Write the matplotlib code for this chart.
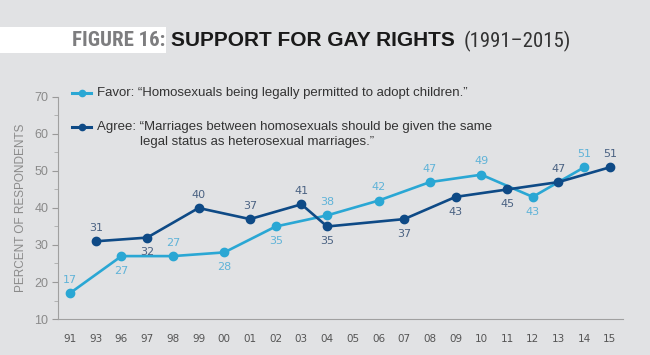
import numpy as np
import matplotlib
matplotlib.use("Agg")
from matplotlib import pyplot as plt
from matplotlib import font_manager
from matplotlib.patches import Rectangle

years = ['91', '93', '96', '97', '98', '99', '00', '01', '02', '03', '04',
         '05', '06', '07', '08', '09', '10', '11', '12', '13', '14', '15']

# Favor: adopt children
adopt_years = ['91', '96', '98', '00', '02', '04', '06', '08', '10', '12', '14']
adopt_vals = [17, 27, 27, 28, 35, 38, 42, 47, 49, 43, 51]
adopt_pos = ['a', 'b', 'a', 'b', 'b', 'a', 'a', 'a', 'a', 'b', 'a']

# Agree: marriage same legal status
marry_years = ['93', '97', '99', '01', '03', '04', '07', '09', '11', '13', '15']
marry_vals = [31, 32, 40, 37, 41, 35, 37, 43, 45, 47, 51]
marry_pos = ['a', 'b', 'a', 'a', 'a', 'b', 'b', 'b', 'b', 'a', 'a']

bg = '#e1e2e4'
light = '#2aa7d4'
dark = '#0e4a86'
light_lbl = '#5fb3d8'
dark_lbl = '#4a6282'

names = {f.name for f in font_manager.fontManager.ttflist}
cond = [n for n in ['Liberation Sans Narrow', 'DejaVu Sans Condensed', 'Roboto Condensed']
        if n in names]
cond_fam = cond + ['Liberation Sans']

fig = plt.figure(figsize=(6.5, 3.55), dpi=100, facecolor=bg)
ax = fig.add_axes([0.0892, 0.1014, 0.8688, 0.6254], facecolor=bg)

xi = {y: i for i, y in enumerate(years)}
ax_x = [xi[y] for y in adopt_years]
mx_x = [xi[y] for y in marry_years]

ax.plot(ax_x, adopt_vals, color=light, lw=1.9, marker='o', ms=6, zorder=3, clip_on=False)
ax.plot(mx_x, marry_vals, color=dark, lw=1.9, marker='o', ms=6, zorder=4, clip_on=False)

for x, v, p in zip(ax_x, adopt_vals, adopt_pos):
    off = 6 if p == 'a' else -7
    ax.annotate(str(v), (x, v), xytext=(0, off), textcoords='offset points',
                ha='center', va='bottom' if p == 'a' else 'top',
                fontsize=8, color=light_lbl)
for x, v, p in zip(mx_x, marry_vals, marry_pos):
    off = 6 if p == 'a' else -7
    ax.annotate(str(v), (x, v), xytext=(0, off), textcoords='offset points',
                ha='center', va='bottom' if p == 'a' else 'top',
                fontsize=8, color=dark_lbl)

ax.set_xlim(-0.47, 21.5)
ax.set_ylim(10, 70)
ax.set_xticks(range(len(years)))
ax.set_xticklabels(years, fontsize=7.5, color='#555555')
ax.tick_params(axis='x', length=0, pad=11)
ax.set_yticks(np.arange(10, 71, 10))
ax.set_yticks(np.arange(15, 70, 10), minor=True)
ax.tick_params(axis='y', which='major', length=4, color='#999999', labelsize=9,
               labelcolor='#8a8a8a', pad=3)
ax.tick_params(axis='y', which='minor', length=3, color='#aaaaaa')
for lbl in ax.get_yticklabels():
    lbl.set_family('Liberation Sans')
for s in ['top', 'right']:
    ax.spines[s].set_visible(False)
ax.spines['left'].set_color('#a0a0a0')
ax.spines['bottom'].set_color('#a0a0a0')
ax.set_ylabel('PERCENT OF RESPONDENTS', fontsize=8.5, color='#8a8a8a',
              family='Liberation Sans', labelpad=5)

# legend drawn by hand
lx0, lx1 = 72 / 650, 91 / 650
for yy, c in [(93, light), (127, dark)]:
    fy = 1 - yy / 355
    fig.add_artist(plt.Line2D([lx0, lx1], [fy, fy], color=c, lw=2.2))
    fig.add_artist(plt.Line2D([(lx0 + lx1) / 2], [fy], color=c, marker='o', ms=4.5))
fig.text(97 / 650, 1 - 93 / 355, 'Favor: \u201cHomosexuals being legally permitted to adopt children.\u201d',
         fontsize=9.5, color='#333333', family='Liberation Sans', va='center')
fig.text(97 / 650, 1 - 127 / 355, 'Agree: \u201cMarriages between homosexuals should be given the same',
         fontsize=9.5, color='#333333', family='Liberation Sans', va='center')
fig.text(140 / 650, 1 - 142 / 355, 'legal status as heterosexual marriages.\u201d',
         fontsize=9.5, color='#333333', family='Liberation Sans', va='center')

# title
fig.add_artist(Rectangle((0, 1 - 53 / 355), 166 / 650, 26 / 355, transform=fig.transFigure,
                         facecolor='white', edgecolor='none'))
ty = 1 - 41 / 355
t1 = fig.text(72 / 650, ty, 'FIGURE 16:', fontsize=15, fontweight='bold', color='#7d7d7f',
              family=cond_fam, va='center')
fig.canvas.draw()
r = fig.canvas.get_renderer()
x = t1.get_window_extent(r).x1 + 6
t2 = fig.text(x / 650, ty, 'SUPPORT FOR GAY RIGHTS', fontsize=15, fontweight='bold', color='#1a1a1a',
              family='Liberation Sans', va='center')
x = t2.get_window_extent(r).x1 + 8
fig.text(x / 650, ty, '(1991\u20132015)', fontsize=15, color='#333333',
         family=cond_fam, va='center')

fig.savefig('out.png', dpi=100, facecolor=bg)
